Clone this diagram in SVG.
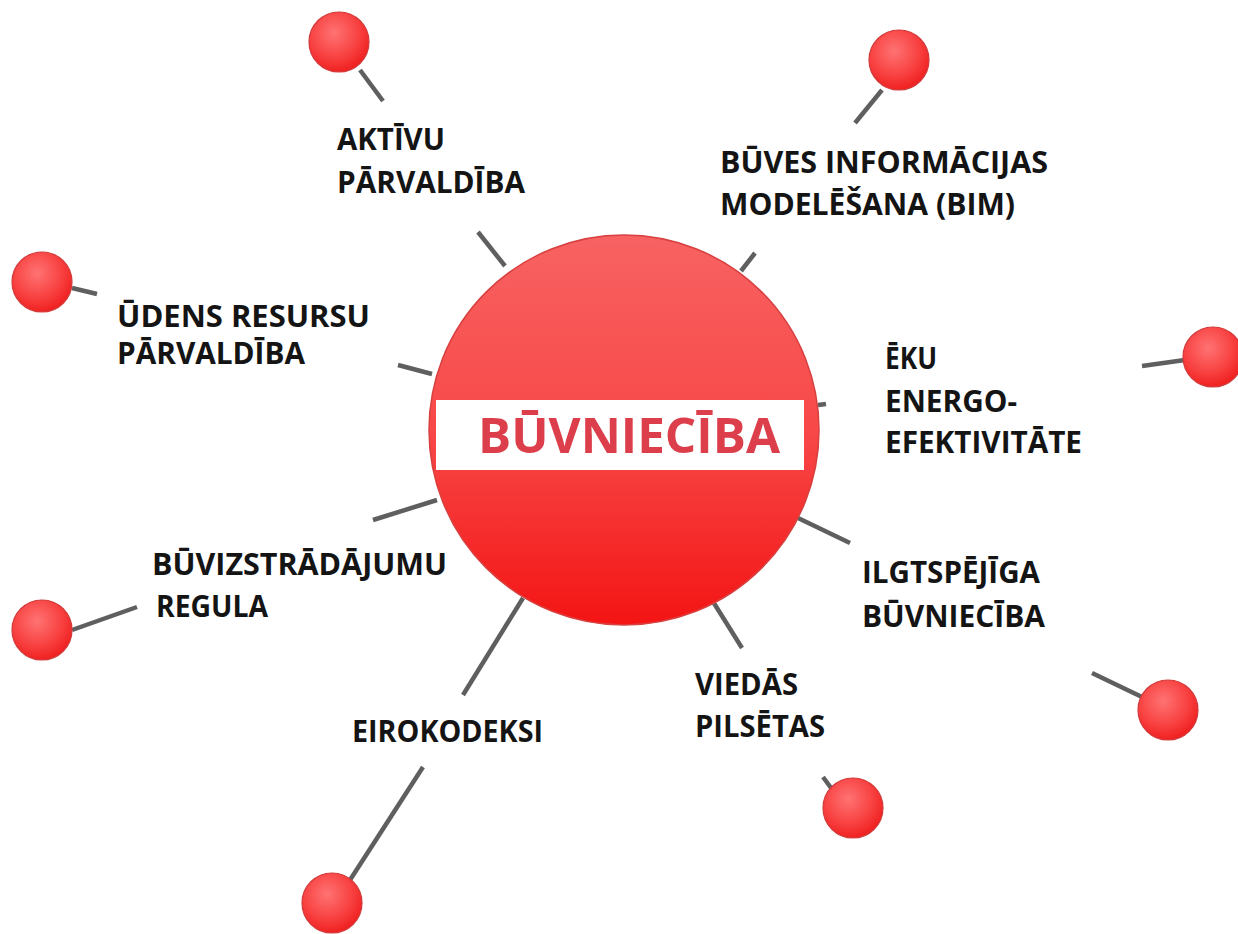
<svg xmlns="http://www.w3.org/2000/svg" width="1238" height="934" viewBox="0 0 1238 934">
<style>
.lbl{font-family:"Open Sans","Liberation Sans",sans-serif;font-weight:bold;font-size:30px;fill:#141414}
.conn line{stroke:#5f5f5f;stroke-width:4.5;stroke-linecap:butt}
.ball{fill:url(#gBall);stroke:#d23a3a;stroke-width:1.2}
</style>
<defs>
<radialGradient id="gBall" cx="0.42" cy="0.35" r="0.7">
<stop offset="0" stop-color="#ff7373"/>
<stop offset="0.6" stop-color="#f84040"/>
<stop offset="1" stop-color="#ee1a1a"/>
</radialGradient>
<linearGradient id="gMain" x1="0" y1="0" x2="0" y2="1">
<stop offset="0" stop-color="#f86262"/>
<stop offset="0.5" stop-color="#f84848"/>
<stop offset="1" stop-color="#f41414"/>
</linearGradient>
</defs>
<rect width="1238" height="934" fill="#ffffff"/>
<g id="connectors" class="conn">
<line x1="360" y1="70" x2="383" y2="101"/>
<line x1="478" y1="232" x2="505" y2="266"/>
<line x1="882" y1="90" x2="855" y2="123"/>
<line x1="755" y1="253" x2="741" y2="271"/>
<line x1="72" y1="288" x2="97" y2="294"/>
<line x1="398" y1="365" x2="432" y2="374"/>
<line x1="1142" y1="366" x2="1185" y2="360"/>
<line x1="818" y1="405" x2="826" y2="404"/>
<line x1="72" y1="630" x2="137" y2="607"/>
<line x1="373" y1="520" x2="437" y2="500"/>
<line x1="423" y1="767" x2="350" y2="880"/>
<line x1="523" y1="598" x2="463" y2="695"/>
<line x1="712" y1="600" x2="742" y2="648"/>
<line x1="823" y1="777" x2="834" y2="792"/>
<line x1="798" y1="518" x2="850" y2="543"/>
<line x1="1092" y1="673" x2="1142" y2="697"/>
</g>
<g id="center">
<circle cx="624" cy="430" r="195" fill="url(#gMain)" stroke="#d84040" stroke-width="1.5"/>
<rect x="436" y="400" width="368" height="70" fill="#ffffff"/>
<text x="478" y="453" font-family="Open Sans, Liberation Sans, sans-serif" font-weight="bold" font-size="49" fill="#dc3f4b" textLength="302" lengthAdjust="spacingAndGlyphs">BŪVNIECĪBA</text>
</g>
<g id="node-aktivu">
<circle class="ball" cx="339" cy="42" r="30"/>
<text class="lbl" x="337" y="150" textLength="108" lengthAdjust="spacingAndGlyphs">AKTĪVU</text>
<text class="lbl" x="337" y="193" textLength="188" lengthAdjust="spacingAndGlyphs">PĀRVALDĪBA</text>
</g>
<g id="node-bim">
<circle class="ball" cx="899" cy="60" r="30"/>
<text class="lbl" x="720" y="173" textLength="328" lengthAdjust="spacingAndGlyphs">BŪVES INFORMĀCIJAS</text>
<text class="lbl" x="720" y="215" textLength="295" lengthAdjust="spacingAndGlyphs">MODELĒŠANA (BIM)</text>
</g>
<g id="node-udens">
<circle class="ball" cx="42" cy="282" r="30"/>
<text class="lbl" x="117" y="327" textLength="253" lengthAdjust="spacingAndGlyphs">ŪDENS RESURSU</text>
<text class="lbl" x="117" y="364" textLength="188" lengthAdjust="spacingAndGlyphs">PĀRVALDĪBA</text>
</g>
<g id="node-eku">
<circle class="ball" cx="1213" cy="357" r="30"/>
<text class="lbl" x="885" y="369" textLength="52" lengthAdjust="spacingAndGlyphs">ĒKU</text>
<text class="lbl" x="885" y="412" textLength="132" lengthAdjust="spacingAndGlyphs">ENERGO-</text>
<text class="lbl" x="885" y="453" textLength="197" lengthAdjust="spacingAndGlyphs">EFEKTIVITĀTE</text>
</g>
<g id="node-buvizstradajumu">
<circle class="ball" cx="42" cy="630" r="30"/>
<text class="lbl" x="152" y="575" textLength="295" lengthAdjust="spacingAndGlyphs">BŪVIZSTRĀDĀJUMU</text>
<text class="lbl" x="156" y="617" textLength="112" lengthAdjust="spacingAndGlyphs">REGULA</text>
</g>
<g id="node-eirokodeksi">
<circle class="ball" cx="332" cy="903" r="30"/>
<text class="lbl" x="352" y="742" textLength="191" lengthAdjust="spacingAndGlyphs">EIROKODEKSI</text>
</g>
<g id="node-viedas">
<circle class="ball" cx="853" cy="808" r="30"/>
<text class="lbl" x="695" y="695" textLength="103" lengthAdjust="spacingAndGlyphs">VIEDĀS</text>
<text class="lbl" x="695" y="737" textLength="130" lengthAdjust="spacingAndGlyphs">PILSĒTAS</text>
</g>
<g id="node-ilgtspejiga">
<circle class="ball" cx="1168" cy="710" r="30"/>
<text class="lbl" x="862" y="583" textLength="178" lengthAdjust="spacingAndGlyphs">ILGTSPĒJĪGA</text>
<text class="lbl" x="862" y="627" textLength="183" lengthAdjust="spacingAndGlyphs">BŪVNIECĪBA</text>
</g>
</svg>
